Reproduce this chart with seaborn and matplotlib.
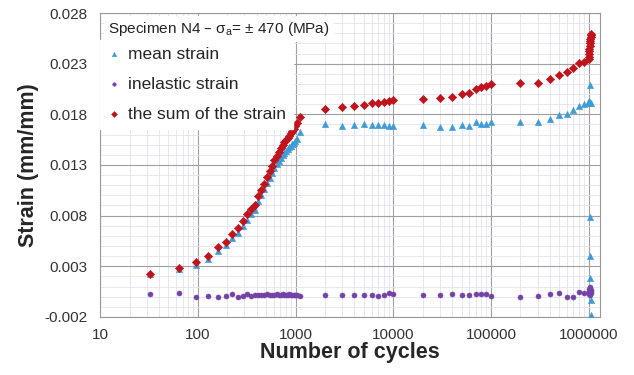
import numpy as np
import matplotlib.pyplot as plt
import matplotlib.ticker as mticker
import pandas as pd
import seaborn as sns

# cycles shared by all three series
cycles = [32, 64, 96, 128, 160, 192, 224, 256, 288, 320, 352, 384, 416, 448, 480,
          512, 544, 576, 608, 640, 672, 704, 736, 768, 800, 832, 864, 896, 928,
          960, 992, 1024, 1120,
          2000, 3000, 4000, 5000, 6000, 7000, 8000, 9000, 10000,
          20000, 30000, 40000, 50000, 60000, 70000, 80000, 90000, 100000,
          200000, 300000, 400000, 500000, 600000, 700000, 800000, 900000,
          1000000, 1005000, 1010000, 1015000, 1020000, 1025000, 1030000,
          1035000, 1040000, 1045000, 1050000, 1055000]

mean_strain = [0.00220, 0.00270, 0.00310, 0.00370, 0.00450, 0.00510, 0.00580,
               0.00630, 0.00700, 0.00760, 0.00820, 0.00860, 0.00940, 0.01000,
               0.01060, 0.01120, 0.01170, 0.01220, 0.01270, 0.01310, 0.01340,
               0.01370, 0.01400, 0.01420, 0.01440, 0.01460, 0.01480, 0.01490,
               0.01510, 0.01520, 0.01540, 0.01560, 0.01630,
               0.01701, 0.01688, 0.01695, 0.01707, 0.01695, 0.01695, 0.01692,
               0.01685, 0.01685,
               0.01695, 0.01678, 0.01678, 0.01695, 0.01685, 0.01727, 0.01704,
               0.01707, 0.01721,
               0.01724, 0.01724, 0.01757, 0.01794, 0.01803, 0.01843, 0.01882,
               0.01899,
               0.01910, 0.01920, 0.01930, 0.01925, 0.01935, 0.02090, 0.00790,
               0.00402, 0.00182, -0.00033, -0.00178, 0.01915]

inelastic_strain = [0.00027, 0.00033, 0.00000, 0.00003, 0.00000, 0.00003, 0.00027,
                    0.00000, 0.00003, 0.00027, 0.00010, 0.00013, 0.00020, 0.00017,
                    0.00020, 0.00023, 0.00017, 0.00013, 0.00020, 0.00023, 0.00017,
                    0.00020, 0.00023, 0.00020, 0.00013, 0.00017, 0.00023, 0.00020,
                    0.00013, 0.00017, 0.00020, 0.00013, 0.00010,
                    0.00013, 0.00020, 0.00017, 0.00013, 0.00020, 0.00007, 0.00017,
                    0.00033, 0.00027,
                    0.00017, 0.00013, 0.00030, 0.00020, 0.00017, 0.00030, 0.00027,
                    0.00023, 0.00007,
                    0.00000, 0.00003, 0.00024, 0.00033, 0.00000, 0.00000, 0.00043,
                    0.00040,
                    0.00035, 0.00050, 0.00060, 0.00030, 0.00080, 0.00100, 0.00045,
                    0.00070, 0.00020, 0.00055, 0.00065, 0.00040]

total_strain = [0.00227, 0.00286, 0.00342, 0.00405, 0.00494, 0.00543, 0.00622,
                0.00675, 0.00747, 0.00813, 0.00868, 0.00905, 0.00994, 0.01053,
                0.01115, 0.01178, 0.01238, 0.01290, 0.01349, 0.01390, 0.01430,
                0.01470, 0.01500, 0.01530, 0.01550, 0.01570, 0.01590, 0.01620,
                0.01640, 0.01660, 0.01690, 0.01711, 0.01777,
                0.01853, 0.01872, 0.01885, 0.01895, 0.01912, 0.01915, 0.01922,
                0.01934, 0.01938,
                0.01954, 0.01961, 0.01974, 0.01998, 0.02007, 0.02050, 0.02073,
                0.02083, 0.02100,
                0.02106, 0.02109, 0.02149, 0.02188, 0.02215, 0.02254, 0.02310,
                0.02320,
                0.02343, 0.02370, 0.02400, 0.02430, 0.02450, 0.02480, 0.02500,
                0.02520, 0.02540, 0.02560, 0.02580, 0.02593]

labels = ["mean strain", "inelastic strain", "the sum of the strain"]
colors = ["#3f9bd6", "#7442a6", "#c0141c"]
markers = ["^", "o", "D"]
sizes = [20, 13, 18]
title = "Specimen N4 – σ$_\\mathregular{a}$= ± 470 (MPa)"

df = pd.DataFrame({"cycles": cycles, labels[0]: mean_strain,
                   labels[1]: inelastic_strain, labels[2]: total_strain})
long = df.melt(id_vars="cycles", var_name="series", value_name="strain")

sns.set_style("white")
plt.rcParams["font.family"] = ["Liberation Sans", "DejaVu Sans"]

fig = plt.figure(figsize=(6.34, 3.75), dpi=100)
ax = fig.add_axes([0.158, 0.155, 0.788, 0.81])

for lab, c, m, s in zip(labels, colors, markers, sizes):
    sub = long[long["series"] == lab]
    sns.scatterplot(data=sub, x="cycles", y="strain", ax=ax, color=c, marker=m,
                    s=s, edgecolor=c, linewidth=0.4, label=lab, zorder=3)

ax.set_xscale("log")
ax.set_xlim(10, 1.3e6)
ax.set_ylim(-0.002, 0.028)
ax.xaxis.set_major_locator(mticker.LogLocator(base=10))
ax.xaxis.set_minor_locator(mticker.LogLocator(base=10, subs=np.arange(2, 10)))
ax.xaxis.set_major_formatter(mticker.FuncFormatter(lambda v, p: f"{v:.0f}"))
ax.xaxis.set_minor_formatter(mticker.NullFormatter())
ax.yaxis.set_major_locator(mticker.FixedLocator(np.arange(-0.002, 0.0281, 0.005)))
ax.yaxis.set_minor_locator(mticker.MultipleLocator(0.001))
ax.yaxis.set_major_formatter(mticker.FuncFormatter(lambda v, p: f"{v:.3f}"))

ax.grid(which="major", color="#a0a0a0", linewidth=0.8, zorder=0)
ax.grid(which="minor", color="#e2e2f2", linewidth=0.6, zorder=0)
ax.set_axisbelow(True)

ax.tick_params(axis="x", which="both", length=0, labelsize=11, pad=8, colors="#333333")
ax.tick_params(axis="y", which="major", length=5, direction="out", labelsize=11,
               colors="#333333", pad=4)
ax.tick_params(axis="y", which="minor", length=3, direction="out", color="#999999")
ax.tick_params(axis="y", which="major", color="#999999")
for sp in ax.spines.values():
    sp.set_color("#999999")
    sp.set_linewidth(0.8)

ax.set_xlabel("Number of cycles", fontsize=15.5, fontweight="bold", labelpad=0)
ax.set_ylabel("Strain (mm/mm)", fontsize=15.5, fontweight="bold", labelpad=4)

# legend box (white, no visible border) below a separate title line
leg = ax.legend(loc="upper left", bbox_to_anchor=(0.0, 0.912), fontsize=12.5,
                frameon=True, facecolor="white", edgecolor="white",
                framealpha=1, fancybox=False, markerscale=0.7,
                handlelength=0.8, handletextpad=0.4, labelspacing=0.85,
                borderaxespad=0.0, borderpad=0.4)
leg.set_zorder(5)
ax.text(0.016, 0.947, title, transform=ax.transAxes, fontsize=11,
        ha="left", va="center", color="#222222", zorder=6,
        bbox=dict(facecolor="white", edgecolor="none", pad=3))

fig.savefig("out.png", dpi=100)
